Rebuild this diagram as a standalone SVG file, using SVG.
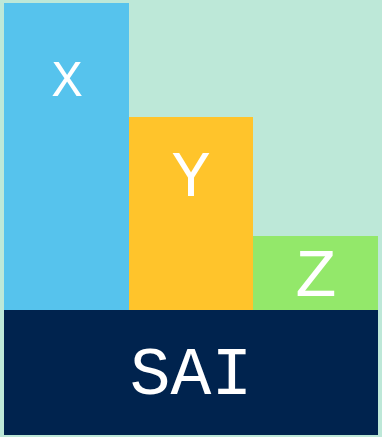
<svg xmlns="http://www.w3.org/2000/svg" width="382" height="437" viewBox="0 0 382 437">
<style>
.lbl{font-family:"Liberation Mono",monospace;fill:#ffffff;text-anchor:middle}
</style>
<rect x="0" y="0" width="382" height="437" fill="#bde8d8"/>
<g id="X"><rect x="4" y="3" width="125" height="307" fill="#56c3ed"/><text class="lbl" x="67" y="96" font-size="52">X</text></g>
<g id="Y"><rect x="129" y="117" width="124" height="193" fill="#ffc42b"/><text class="lbl" x="191" y="196" font-size="65">Y</text></g>
<g id="Z"><rect x="253" y="236" width="125" height="74" fill="#93e86a"/><text class="lbl" x="316" y="296" font-size="69">Z</text></g>
<g id="SAI"><rect x="4" y="310" width="374" height="125" fill="#00234e"/><text class="lbl" x="191" y="394" font-size="68">SAI</text></g>
<g id="connectors"/>
</svg>
